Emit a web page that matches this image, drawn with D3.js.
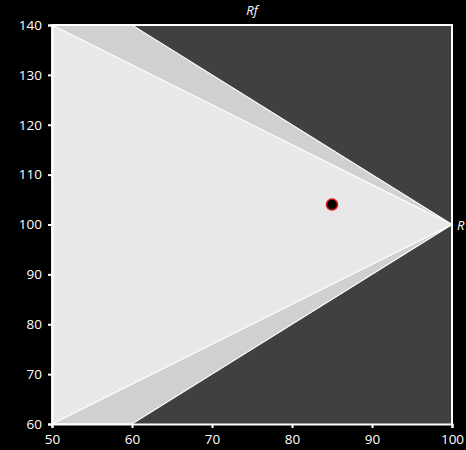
<!DOCTYPE html>
<html>
<head>
<meta charset="utf-8">
<script src="https://cdn.jsdelivr.net/npm/d3@7"></script>
<style>
  body { margin: 0; background: #000; }
  svg { display: block; }
  .tick text { font-family: "Open Sans", sans-serif; font-size: 13.5px; fill: #fff; }
  .tick line, .domain { stroke: #fff; }
</style>
</head>
<body>
<div class="canva"></div>
<script>
// axis ranges and ticks
const xDomain = [50, 100];
const yDomain = [60, 140];
const xTicks = [50, 60, 70, 80, 90, 100];
const yTicks = [60, 70, 80, 90, 100, 110, 120, 130, 140];

// outer (darker) band and inner (lighter) triangle, in data units
const outerBand = [[50, 140], [60, 140], [100, 100], [60, 60], [50, 60]];
const innerTriangle = [[50, 140], [100, 100], [50, 60]];

// the single point
const points = [{x: 85, y: 104}];

const W = 466, H = 450;
const margin = {top: 25, right: 14, bottom: 26, left: 52};

const svg = d3.select('.canva').append('svg')
    .attr('width', W)
    .attr('height', H);

const x = d3.scaleLinear().domain(xDomain).range([margin.left, W - margin.right]);
const y = d3.scaleLinear().domain(yDomain).range([H - margin.bottom, margin.top]);

// plot background
svg.append('rect')
    .attr('x', x(xDomain[0]))
    .attr('y', y(yDomain[1]))
    .attr('width', x(xDomain[1]) - x(xDomain[0]))
    .attr('height', y(yDomain[0]) - y(yDomain[1]))
    .attr('fill', '#404040');

const line = d3.line().x(d => x(d[0])).y(d => y(d[1]));

svg.append('path')
    .attr('d', line(outerBand) + 'Z')
    .attr('fill', '#d0d0d0')
    .attr('stroke', '#fff')
    .attr('stroke-width', 1.2);

svg.append('path')
    .attr('d', line(innerTriangle) + 'Z')
    .attr('fill', '#e8e8e8')
    .attr('stroke', '#fff')
    .attr('stroke-width', 1.2);

// frame on top and right
svg.append('path')
    .attr('d', `M${x(xDomain[0])},${y(yDomain[1])}H${x(xDomain[1])}V${y(yDomain[0])}`)
    .attr('fill', 'none')
    .attr('stroke', '#fff')
    .attr('stroke-width', 2);

// axes
svg.append('g')
    .attr('transform', `translate(0,${y(yDomain[0])})`)
    .call(d3.axisBottom(x).tickValues(xTicks).tickSize(4).tickPadding(6))
    .call(g => g.select('.domain').attr('stroke-width', 2))
    .call(g => g.selectAll('.tick line').attr('stroke-width', 2));

svg.append('g')
    .attr('transform', `translate(${x(xDomain[0])},0)`)
    .call(d3.axisLeft(y).tickValues(yTicks).tickSize(4).tickPadding(6))
    .call(g => g.select('.domain').attr('stroke-width', 2))
    .call(g => g.selectAll('.tick line').attr('stroke-width', 2));

svg.selectAll('.tick text').attr('fill', '#fff');

// point
svg.selectAll('circle.pt')
    .data(points)
    .enter().append('circle')
    .attr('class', 'pt')
    .attr('cx', d => x(d.x))
    .attr('cy', d => y(d.y))
    .attr('r', 5.5)
    .attr('fill', '#000')
    .attr('stroke', '#e01010')
    .attr('stroke-width', 1.5);

// corner labels
svg.append('text')
    .attr('x', x(75))
    .attr('y', 15)
    .attr('text-anchor', 'middle')
    .attr('font-family', 'Open Sans, sans-serif')
    .attr('font-style', 'italic')
    .attr('font-size', 13)
    .attr('fill', '#fff')
    .text('Rf');

svg.append('text')
    .attr('x', x(100) + 5)
    .attr('y', y(100) + 5)
    .attr('font-family', 'Open Sans, sans-serif')
    .attr('font-style', 'italic')
    .attr('font-size', 13)
    .attr('fill', '#fff')
    .text('R');
</script>
</body>
</html>
